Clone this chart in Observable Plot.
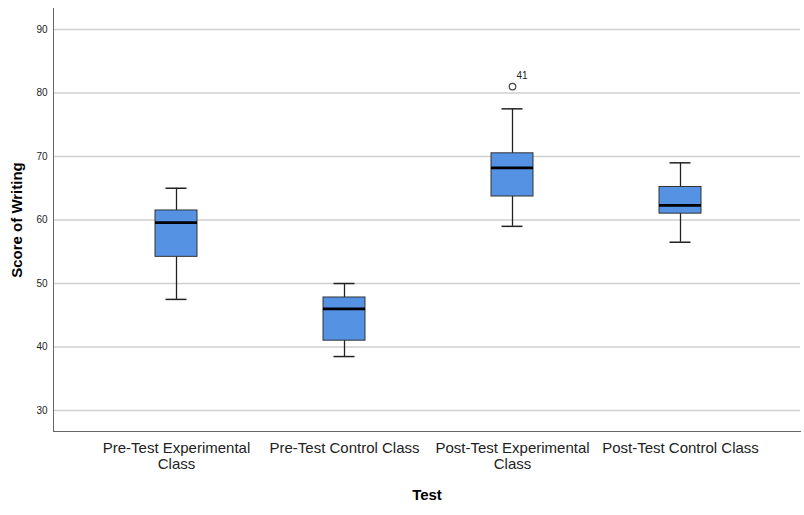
<!DOCTYPE html>
<html><head><meta charset="utf-8">
<script src="https://cdn.jsdelivr.net/npm/d3@7"></script>
<script src="https://cdn.jsdelivr.net/npm/@observablehq/plot@0.6"></script>
<style>body{margin:0;background:#fff}</style>
</head><body><div id="chart"></div>
<script>
const categories = ["Pre-Test Experimental Class", "Pre-Test Control Class", "Post-Test Experimental Class", "Post-Test Control Class"];
const tickLabels = ["Pre-Test Experimental\nClass", "Pre-Test Control Class", "Post-Test Experimental\nClass", "Post-Test Control Class"];
const whiskerLow = [47.5, 38.5, 59.0, 56.5];
const q1 = [54.2, 41.0, 63.7, 61.0];
const median = [59.6, 46.0, 68.2, 62.3];
const q3 = [61.5, 47.8, 70.5, 65.2];
const whiskerHigh = [65.0, 50.0, 77.5, 69.0];
const outlierCategory = ["Post-Test Experimental Class"];
const outlierValue = [81.0];
const outlierLabel = ["41"];
const yTicks = [30, 40, 50, 60, 70, 80, 90];

const boxes = categories.map((c, i) => ({cat: c, lo: whiskerLow[i], q1: q1[i], med: median[i], q3: q3[i], hi: whiskerHigh[i]}));
const outliers = outlierCategory.map((c, i) => ({cat: c, v: outlierValue[i], label: outlierLabel[i]}));
const labelOf = new Map(categories.map((c, i) => [c, tickLabels[i]]));

const chart = Plot.plot({
  width: 804, height: 515,
  marginLeft: 53, marginRight: 4, marginTop: 8, marginBottom: 84,
  style: {fontFamily: "'Liberation Sans', Arial, sans-serif", background: "#fff"},
  x: {domain: categories, range: [91, 764], padding: 0},
  y: {domain: [26.7, 93.3]},
  marks: [
    Plot.gridY(yTicks, {stroke: "#cfcfcf", strokeOpacity: 1, strokeWidth: 1.5}),
    Plot.frame({anchor: "left", stroke: "#666"}),
    Plot.frame({anchor: "bottom", stroke: "#666"}),
    Plot.axisY(yTicks, {tickSize: 0, tickPadding: 6, fontSize: 10, fill: "#222", label: null}),
    Plot.axisX({tickSize: 0, tickPadding: 9, fontSize: 15, fill: "#222", label: null, tickFormat: d => labelOf.get(d), lineHeight: 1.13}),
    Plot.ruleX(boxes, {x: "cat", y1: "lo", y2: "hi", stroke: "#222", strokeWidth: 1.3}),
    Plot.tickY(boxes, {x: "cat", y: "lo", insetLeft: 73.5, insetRight: 73.5, stroke: "#222", strokeWidth: 1.5}),
    Plot.tickY(boxes, {x: "cat", y: "hi", insetLeft: 73.5, insetRight: 73.5, stroke: "#222", strokeWidth: 1.5}),
    Plot.barY(boxes, {x: "cat", y1: "q1", y2: "q3", insetLeft: 63, insetRight: 63, fill: "#5592e4", stroke: "#333", strokeWidth: 1}),
    Plot.tickY(boxes, {x: "cat", y: "med", insetLeft: 63, insetRight: 63, stroke: "#000", strokeWidth: 2.8}),
    Plot.dot(outliers, {x: "cat", y: "v", r: 3.3, stroke: "#444", strokeWidth: 1.2, fill: "none"}),
    Plot.text(outliers, {x: "cat", y: "v", text: "label", dx: 4, dy: -11, textAnchor: "start", fontSize: 10, fill: "#222"}),
    Plot.text(["Score of Writing"], {frameAnchor: "left", dx: -36, rotate: -90, textAnchor: "middle", fontSize: 15, fontWeight: "bold", fill: "#000"}),
    Plot.text(["Test"], {frameAnchor: "bottom", dy: 68, fontSize: 15, fontWeight: "bold", fill: "#000"})
  ]
});
document.getElementById("chart").appendChild(chart);
</script>
</body></html>
